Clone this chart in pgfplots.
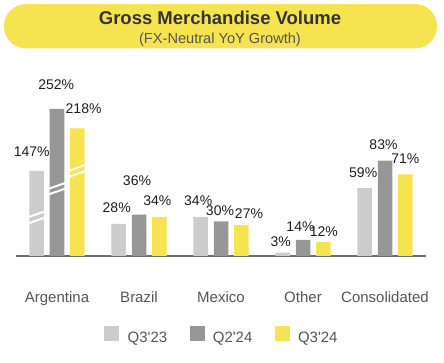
\documentclass[border=0pt]{standalone}
\usepackage{fontspec}
\setmainfont{Liberation Sans}
\usepackage{pgfplots}
\usepackage{pgfplotstable}
\pgfplotsset{compat=1.18}
\definecolor{cA}{RGB}{204,204,204}
\definecolor{cB}{RGB}{150,150,150}
\definecolor{cC}{RGB}{245,228,80}
\definecolor{axgray}{RGB}{110,110,110}
\definecolor{labgray}{RGB}{85,85,85}
\definecolor{numcol}{RGB}{30,30,30}
\definecolor{titcol}{RGB}{51,51,51}

% x = category index, h = drawn bar height (Argentina bars are broken), lab = value shown
\pgfplotstableread{
x h lab dx dy
0 74 147 -5 14
1 28 28 -2 11
2 34 34 -2.5 11
3 3 3 -2 6
4 59 59 -1.5 10
}\qA
\pgfplotstableread{
x h lab dx dy
0 128 252 -0.7 19
1 36 36 -2 29
2 30 30 -1 6
3 14 14 -2.5 8.6
4 83 83 -1.5 10.7
}\qB
\pgfplotstableread{
x h lab dx dy
0 111 218 6.3 15
1 34 34 -2 11
2 27 27 7.7 6
3 12 12 0.5 5
4 71 71 0 10.7
}\qC

\begin{document}
\begin{tikzpicture}
\path[use as bounding box] (0,0) rectangle (444pt,363pt);
% title band
\node[fill=cC, rounded corners=22pt, minimum width=433pt, minimum height=44.3pt, inner sep=0] at (220.5pt,336.8pt) {};
\node[anchor=base, inner sep=0, text=titcol] at (220pt,338pt) {\fontsize{18.5}{20}\selectfont\bfseries Gross Merchandise Volume};
\node[anchor=base, inner sep=0, text=labgray] at (220pt,319.7pt) {\fontsize{14.6}{17}\selectfont (FX-Neutral YoY Growth)};
\begin{axis}[
  at={(16pt,107pt)}, anchor=south west,
  scale only axis, width=410pt, height=180pt,
  xmin=-0.5, xmax=4.5, ymin=0, ymax=156.52,
  clip=false,
  ybar=5.8pt, bar width=14.5pt,
  axis x line=bottom, axis y line=none,
  x axis line style={draw=axgray, line width=2pt, -},
  xtick={0,1,2,3,4},
  xticklabels={Argentina,Brazil,Mexico,Other,Consolidated},
  major tick length=0pt,
  xticklabel style={anchor=base, yshift=-46.7pt, inner sep=0pt, text=labgray, font=\fontsize{15}{18}\selectfont},
  ytick=\empty,
  point meta=explicit symbolic,
  nodes near coords={\pgfplotspointmeta\%},
  visualization depends on={\thisrow{dx} \as \dx},
  visualization depends on={\thisrow{dy} \as \dy},
  every node near coord/.append style={anchor=south, inner sep=0pt, text=numcol,
     font=\fontsize{14}{16}\selectfont, xshift=\dx*1pt, yshift=\dy*1pt},
  legend columns=3,
  legend image code/.code={\fill[#1] (0pt,-2.7pt) rectangle (15pt,12.3pt);},
  legend style={at={(0.5,0)}, anchor=north, yshift=-70pt, draw=none, fill=none,
     inner sep=0pt, outer sep=0pt,
     nodes={inner sep=0pt, text=labgray, font=\fontsize{15}{18}\selectfont},
     /tikz/every odd column/.append style={column sep=8.3pt},
     /tikz/every even column/.append style={column sep=22.3pt}},
]
\addplot[fill=cA, draw=none] table[x=x, y=h, meta=lab] {\qA};
\addplot[fill=cB, draw=none] table[x=x, y=h, meta=lab] {\qB};
\addplot[fill=cC, draw=none] table[x=x, y=h, meta=lab] {\qC};
\legend{Q3\textquotesingle 23, Q2\textquotesingle 24, Q3\textquotesingle 24}
% axis-break marks on the Argentina bars
\draw[white, line width=2pt] (axis cs:-0.3476,33.8) -- (axis cs:-0.1476,38.8);
\draw[white, line width=2pt] (axis cs:-0.3476,28.4) -- (axis cs:-0.1476,33.4);
\draw[white, line width=2pt] (axis cs:-0.1,58.5) -- (axis cs:0.1,63.5);
\draw[white, line width=2pt] (axis cs:-0.1,53.6) -- (axis cs:0.1,58.6);
\draw[white, line width=2pt] (axis cs:0.1476,74.2) -- (axis cs:0.3476,79.2);
\draw[white, line width=2pt] (axis cs:0.1476,68.9) -- (axis cs:0.3476,73.9);
\end{axis}
\end{tikzpicture}
\end{document}
